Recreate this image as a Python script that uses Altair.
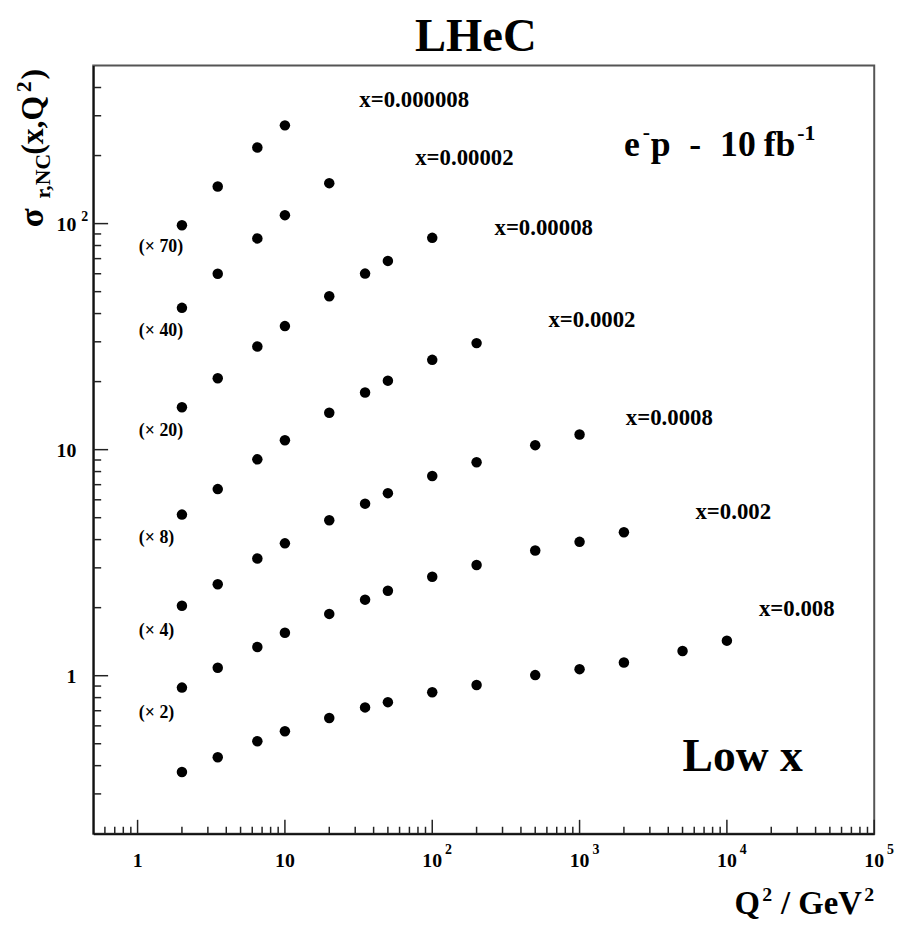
import altair as alt
import pandas as pd

# ---------------- data ----------------
Q2 = [2, 3.5, 6.5, 10, 20, 35, 50, 100, 200, 500, 1000, 2000, 5000, 10000]

x_bins = ["x=0.000008", "x=0.00002", "x=0.00008", "x=0.0002",
          "x=0.0008", "x=0.002", "x=0.008"]

sig_x000008 = [98.4, 146, 217, 272]
sig_x00002 = [42.4, 60, 86, 109, 151]
sig_x00008 = [15.4, 20.7, 28.6, 35.2, 47.7, 60.1, 68.4, 86.5]
sig_x0002 = [5.16, 6.69, 9.06, 11.0, 14.56, 17.9, 20.2, 24.96, 29.6]
sig_x0008 = [2.04, 2.54, 3.30, 3.85, 4.87, 5.77, 6.42, 7.65, 8.79, 10.47, 11.66]
sig_x002 = [0.886, 1.084, 1.34, 1.55, 1.877, 2.17, 2.376, 2.74, 3.09, 3.58, 3.91, 4.31]
sig_x008 = [0.375, 0.436, 0.513, 0.568, 0.65, 0.724, 0.764, 0.845, 0.909,
            1.006, 1.069, 1.144, 1.287, 1.429]

series = [sig_x000008, sig_x00002, sig_x00008, sig_x0002, sig_x0008, sig_x002, sig_x008]

factors = ["(× 70)", "(× 40)", "(× 20)", "(× 8)", "(× 4)", "(× 2)"]

# annotation anchors (data coordinates)
xlab_q2 = [32, 76.6, 264.6, 615, 2059, 6118, 16500]
xlab_sig = [328.6, 181, 88.9, 34.8, 12.9, 4.94, 1.845]
fac_q2 = [1.02] * 6
fac_sig = [74.6, 31.8, 11.47, 3.875, 1.498, 0.65]

x_major = [1, 10, 100, 1000, 10000, 100000]
x_major_text = ["1", "10", "10", "10", "10", "10"]
x_major_sup = ["", "", "2", "3", "4", "5"]
y_major = [1, 10, 100]
y_major_text = ["1", "10", "10"]
y_major_sup = ["", "", "2"]

# ---------------- tables ----------------
rows = []
for lab, vals in zip(x_bins, series):
    for q, v in zip(Q2, vals):
        rows.append({"Q2": q, "sigma": v, "bin": lab})
df = pd.DataFrame(rows)

df_xlab = pd.DataFrame({"label": x_bins, "q": xlab_q2, "s": xlab_sig})
df_fac = pd.DataFrame({"label": factors, "q": fac_q2, "s": fac_sig})

x_minor = [m * 10.0 ** e for e in range(-1, 5) for m in range(2, 10)
           if 0.5 < m * 10.0 ** e < 1e5]
y_minor = [m * 10.0 ** e for e in range(-1, 3) for m in range(2, 10)
           if 0.2 < m * 10.0 ** e < 500]
df_xmaj = pd.DataFrame({"v": x_major, "t": x_major_text, "s": x_major_sup})
df_xmin = pd.DataFrame({"v": x_minor})
df_ymaj = pd.DataFrame({"v": y_major, "t": y_major_text, "s": y_major_sup})
df_ymin = pd.DataFrame({"v": y_minor})
one = pd.DataFrame({"a": [0]})

# ---------------- scales / helpers ----------------
W, H = 788, 775
FONT = "Liberation Serif"
xs = alt.Scale(type="log", domain=[0.5, 1e5], nice=False)
ys = alt.Scale(type="log", domain=[0.2, 500], nice=False)
AX = alt.Axis(labels=False, ticks=False, grid=False, title="",
              domainColor="#111111", domainWidth=2)


def X(f):
    return alt.X(f, type="quantitative", scale=xs, axis=AX)


def Y(f):
    return alt.Y(f, type="quantitative", scale=ys, axis=AX)


def T(size, **kw):
    return dict(font=FONT, fontWeight="bold", fontSize=size, color="black", **kw)


layers = []

# points
layers.append(alt.Chart(df).mark_circle(size=112, color="black", opacity=1).encode(
    x=X("Q2"), y=Y("sigma")))

# ticks (drawn inward like the original)
layers.append(alt.Chart(df_xmaj).mark_rule(color="#222", strokeWidth=1.5).encode(
    x=X("v"), y=alt.value(H), y2=alt.value(H - 14)))
layers.append(alt.Chart(df_xmin).mark_rule(color="#222", strokeWidth=1.5).encode(
    x=X("v"), y=alt.value(H), y2=alt.value(H - 7)))
layers.append(alt.Chart(df_ymaj).mark_rule(color="#222", strokeWidth=1.5).encode(
    y=Y("v"), x=alt.value(0), x2=alt.value(15)))
layers.append(alt.Chart(df_ymin).mark_rule(color="#222", strokeWidth=1.5).encode(
    y=Y("v"), x=alt.value(0), x2=alt.value(8)))

# tick labels
layers.append(alt.Chart(df_xmaj).mark_text(**T(20, align="center", baseline="alphabetic")).encode(
    x=X("v"), y=alt.value(809), text="t:N"))
layers.append(alt.Chart(df_xmaj).mark_text(**T(14, align="left", baseline="alphabetic", dx=13)).encode(
    x=X("v"), y=alt.value(795), text="s:N"))
layers.append(alt.Chart(df_ymaj).mark_text(**T(20, align="right", baseline="middle", dy=1)).encode(
    y=Y("v"), x=alt.value(-17), text="t:N"))
layers.append(alt.Chart(df_ymaj).mark_text(**T(14, align="left", baseline="middle", dy=-7)).encode(
    y=Y("v"), x=alt.value(-12), text="s:N"))

# series labels and factors
layers.append(alt.Chart(df_xlab).mark_text(**T(23, align="left", baseline="alphabetic")).encode(
    x=X("q"), y=Y("s"), text="label:N"))
layers.append(alt.Chart(df_fac).mark_text(**T(18, align="left", baseline="alphabetic")).encode(
    x=X("q"), y=Y("s"), text="label:N"))

# e-p - 10 fb-1
ep_anchor = pd.DataFrame({"q": [2000], "s": [200]})
for text, dx, dy, size in [("e", 0, 0, 36), ("-", 19, -17, 22), ("p", 27, 0, 36),
                           ("-", 66, 0, 36), ("10", 97, 0, 36), ("fb", 141, 0, 36),
                           ("-1", 175, -16, 22)]:
    layers.append(alt.Chart(ep_anchor).mark_text(
        text=text, **T(size, align="left", baseline="alphabetic", dx=dx, dy=dy)).encode(
        x=X("q"), y=Y("s")))

# Low x
lowx = pd.DataFrame({"q": [5000], "s": [0.38]})
layers.append(alt.Chart(lowx).mark_text(text="Low x", **T(46, align="left", baseline="alphabetic")).encode(
    x=X("q"), y=Y("s")))

# title
layers.append(alt.Chart(one).mark_text(text="LHeC", **T(47, align="center", baseline="alphabetic")).encode(
    x=alt.value(386), y=alt.value(-15)))

# x-axis title  Q^2 / GeV^2
for text, px, py, size in [("Q", 647, 856, 33), ("2", 675, 843, 20),
                           ("/ GeV", 694, 856, 33), ("2", 778, 843, 20)]:
    layers.append(alt.Chart(one).mark_text(text=text, **T(size, align="left", baseline="alphabetic")).encode(
        x=alt.value(px), y=alt.value(py)))

# y-axis title  sigma_{r,NC}(x,Q^2)  rotated
for text, px, py, size in [("σ", -51, 163, 35), ("r,NC", -44, 134, 22),
                           ("(x,Q", -51, 90, 32), ("2", -63, 27, 22), (")", -51, 14, 32)]:
    layers.append(alt.Chart(one).mark_text(text=text, angle=270,
                                           **T(size, align="left", baseline="alphabetic")).encode(
        x=alt.value(px), y=alt.value(py)))

chart = alt.layer(*layers).properties(
    width=W, height=H,
    autosize=alt.AutoSizeParams(type="none"),
    padding={"left": 86, "top": 54, "right": 25, "bottom": 89},
    background="white",
).configure_view(stroke="#555555", strokeWidth=2)

chart.save("out.html", embed_options={"renderer": "svg", "actions": False})
